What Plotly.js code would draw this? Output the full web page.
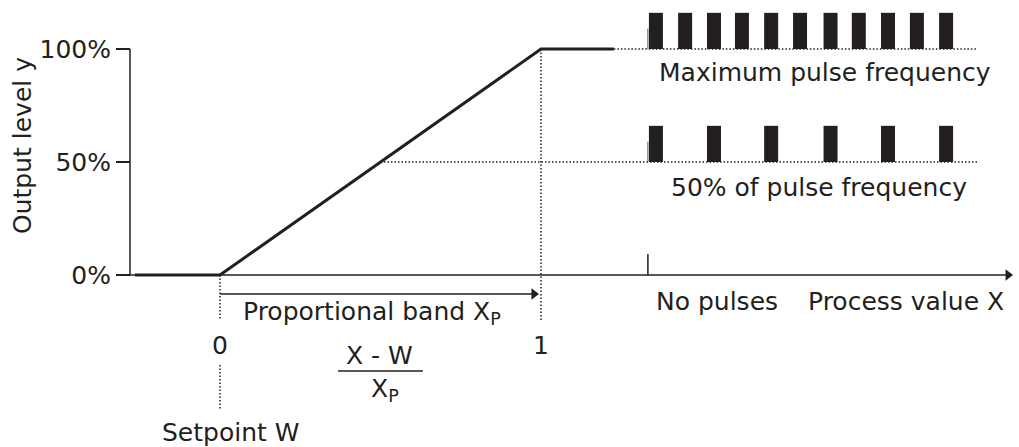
<!DOCTYPE html>
<html>
<head>
<meta charset="utf-8">
<script src="https://cdn.plot.ly/plotly-3.0.1.min.js"></script>
<style>html,body{margin:0;padding:0;background:#fff;}#chart{width:1019px;height:447px;}</style>
</head>
<body>
<div id="chart"></div>
<script>
// ---- data (x in units of (X - W)/Xp, y in % output level) ----
const curveX = [-0.265, 0, 1, 1.227];
const curveY = [0, 0, 100, 100];
const maxPulseX = [1.358, 1.449, 1.539, 1.626, 1.717, 1.807, 1.902, 1.990, 2.081, 2.171, 2.262];
const halfPulseX = [1.358, 1.539, 1.717, 1.902, 2.081, 2.262];
const pulseHeight = 16;
const maxPulseLevel = 100;
const halfPulseLevel = 50;
const pulseStartX = 1.333;
const pulseEndX = 2.361;
const yTickVals = [0, 50, 100];
const yTickText = ['0%', '50%', '100%'];
const xTickVals = [0, 1];
const xTickText = ['0', '1'];

const INK = '#231f20';
const FONT = 'DejaVu Sans, sans-serif';
const FS = 25;
const dotted = {color: INK, width: 1.5, dash: '1.5px,2px'};
const axisLeft = -0.2804, axisRight = 2.455, bandY = -8.4;

const traces = [
  // dotted guides
  {type: 'scatter', mode: 'lines', x: [xTickVals[1], xTickVals[1]], y: [maxPulseLevel, -19.9], line: dotted, hoverinfo: 'skip'},
  {type: 'scatter', mode: 'lines', x: [0.5, pulseEndX], y: [halfPulseLevel, halfPulseLevel], line: dotted, hoverinfo: 'skip'},
  {type: 'scatter', mode: 'lines', x: [curveX[3], pulseEndX], y: [maxPulseLevel, maxPulseLevel], line: dotted, hoverinfo: 'skip'},
  {type: 'scatter', mode: 'lines', x: [xTickVals[0], xTickVals[0], null, xTickVals[0], xTickVals[0]], y: [0, -19.9, null, -39.8, -59.7], line: dotted, hoverinfo: 'skip', connectgaps: false},
  // response curve
  {type: 'scatter', mode: 'lines', x: curveX, y: curveY, line: {color: INK, width: 3}, hoverinfo: 'skip'},
  // arrow heads (x axis, proportional band)
  {type: 'scatter', mode: 'markers', x: [axisRight, 0.978], y: [0, bandY],
   marker: {symbol: 'triangle-right', size: 10, color: INK, line: {width: 0}}, hoverinfo: 'skip', cliponaxis: false},
  // pulses
  {type: 'bar', x: maxPulseX, y: maxPulseX.map(() => pulseHeight), base: maxPulseLevel, width: 0.0436, marker: {color: INK, line: {width: 0}}, hoverinfo: 'skip'},
  {type: 'bar', x: halfPulseX, y: halfPulseX.map(() => pulseHeight), base: halfPulseLevel, width: 0.0436, marker: {color: INK, line: {width: 0}}, hoverinfo: 'skip'}
];

const txt = (x, y, text, extra) => Object.assign({
  x: x, y: y, xref: 'x', yref: 'y', text: text, showarrow: false,
  font: {family: FONT, size: FS, color: INK}, xanchor: 'center', yanchor: 'middle'
}, extra || {});

const layout = {
  width: 1019, height: 447,
  margin: {l: 0, r: 0, t: 0, b: 0},
  paper_bgcolor: '#fff', plot_bgcolor: '#fff',
  showlegend: false, barmode: 'overlay',
  xaxis: {range: [-0.68536, 2.48910], visible: false, fixedrange: true},
  yaxis: {
    range: [-76.106, 121.681], anchor: 'free', position: 130 / 1019,
    showline: false, showgrid: false, zeroline: false,
    tickmode: 'array', tickvals: yTickVals, ticktext: yTickText,
    ticks: 'outside', ticklen: 14, tickwidth: 1.5, tickcolor: INK,
    tickfont: {family: FONT, size: FS, color: INK}, fixedrange: true
  },
  shapes: [
    {type: 'line', xref: 'x', yref: 'y', x0: axisLeft, x1: axisLeft, y0: 0, y1: 100, line: {color: INK, width: 1.5}},
    {type: 'line', xref: 'x', yref: 'y', x0: axisLeft, x1: axisRight, y0: 0, y1: 0, line: {color: INK, width: 1.5}},
    {type: 'line', xref: 'x', yref: 'y', x0: 0, x1: 0.975, y0: bandY, y1: bandY, line: {color: INK, width: 1.5}},
    {type: 'line', xref: 'x', yref: 'y', x0: pulseStartX, x1: pulseStartX, y0: 0, y1: 9.3, line: {color: INK, width: 1.5}},
    {type: 'line', xref: 'x', yref: 'y', x0: pulseStartX, x1: pulseStartX, y0: maxPulseLevel, y1: maxPulseLevel + 9, line: {color: '#555', width: 1}},
    {type: 'line', xref: 'x', yref: 'y', x0: pulseStartX, x1: pulseStartX, y0: halfPulseLevel, y1: halfPulseLevel + 9, line: {color: '#555', width: 1}},
    {type: 'line', xref: 'x', yref: 'y', x0: 0.3676, x1: 0.632, y0: -42.5, y1: -42.5, line: {color: INK, width: 1.5}}
  ],
  annotations: [
    txt(0.475, -16.8, 'Proportional band X<sub>P</sub>'),
    txt(xTickVals[0], -31.0, xTickText[0]),
    txt(xTickVals[1], -31.0, xTickText[1]),
    txt(0.498, -35.4, 'X - W'),
    txt(0.514, -50.9, 'X<sub>P</sub>'),
    txt(0.034, -69.5, 'Setpoint W'),
    txt(1.548, -11.9, 'No pulses'),
    txt(2.137, -11.9, 'Process value X'),
    txt(1.885, 89.4, 'Maximum pulse frequency'),
    txt(1.866, 38.5, '50% of pulse frequency'),
    {x: 22 / 1019, y: (447 - 146) / 447, xref: 'paper', yref: 'paper', text: 'Output level y', textangle: -90,
     showarrow: false, font: {family: FONT, size: FS, color: INK}, xanchor: 'center', yanchor: 'middle'}
  ]
};

Plotly.newPlot('chart', traces, layout, {staticPlot: true, displayModeBar: false});
</script>
</body>
</html>
